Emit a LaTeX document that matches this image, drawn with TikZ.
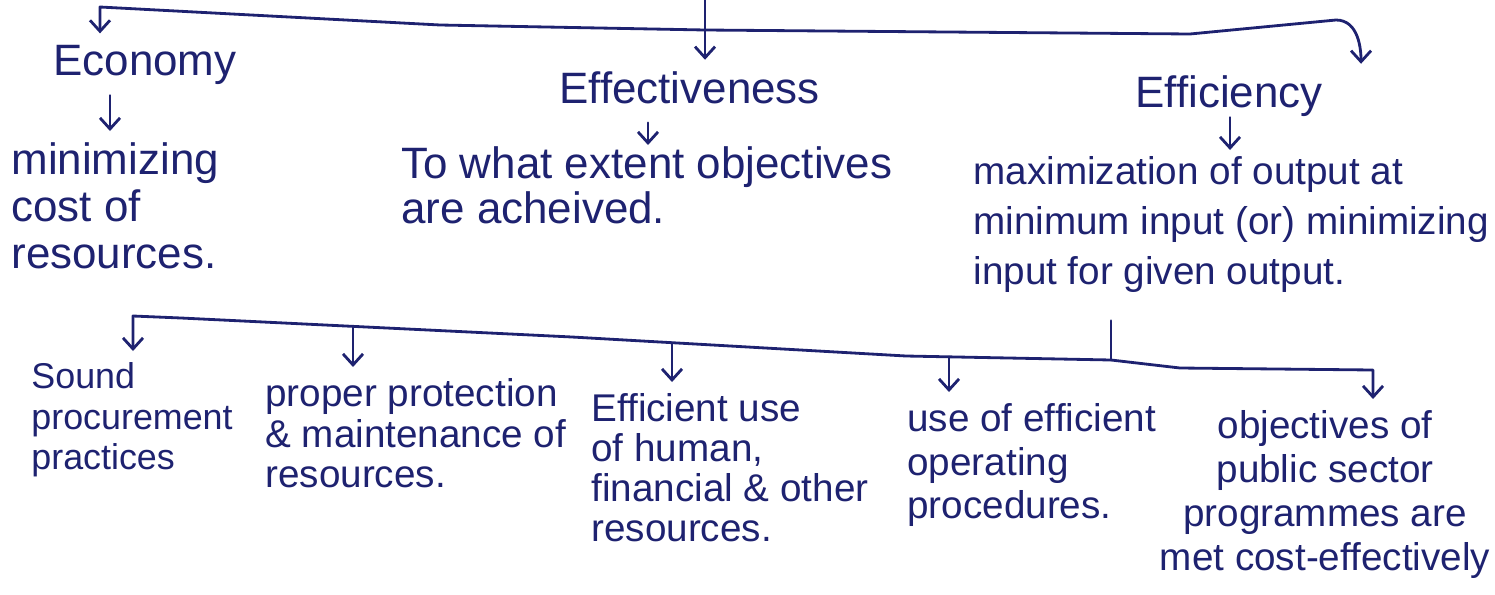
\documentclass[tikz,border=0pt]{standalone}
\usepackage{fontspec}
\setmainfont{Liberation Sans}
\usetikzlibrary{arrows.meta}
\definecolor{ink}{RGB}{30,34,112}

\begin{document}
\begin{tikzpicture}[
    x=0.1mm, y=-0.1mm, color=ink, line width=0.8pt, line cap=round, line join=round,
    head/.style={anchor=base west, inner sep=0pt, font=\fontsize{12.5}{14}\selectfont},
    note/.style={align=left, anchor=north west, inner sep=0pt, font=\fontsize{12.5}{13.4}\selectfont},
    leaf/.style={note, font=\fontsize{11}{11.6}\selectfont},
    arr/.style={-{Straight Barb[length=1.1mm,width=2mm]}, shorten <=1mm, shorten >=1mm},
    bus/.style={arr, {Straight Barb[length=1.1mm,width=2mm]}-{Straight Barb[length=1.1mm,width=2mm]}}
]
\useasboundingbox (0,0) rectangle (1495,594);

\node[head] (ecoh) at (52,75) {Economy};
\node[head] (effh) at (558,103) {Effectiveness};
\node[head] (effih) at (1134,107) {Efficiency};
\node[note] (ecot) at (10,141) {minimizing\\cost of\\resources.};
\node[note, font=\fontsize{12.5}{13}\selectfont] (efft) at (400,145) {To what extent objectives\\are acheived.};
\node[note, font=\fontsize{11}{14.2}\selectfont] (effit) at (972,155) {maximization of output at\\minimum input (or) minimizing\\input for given output.};

\node[leaf, font=\fontsize{10.2}{11.6}\selectfont] (sound) at (30,361) {Sound\\procurement\\practices};
\node[leaf] (protect) at (264,377) {proper protection\\\& maintenance of\\resources.};
\node[leaf, font=\fontsize{11}{11.4}\selectfont] (usehum) at (590,392) {Efficient use\\of human,\\financial \& other\\resources.};
\node[leaf, font=\fontsize{11}{12.4}\selectfont] (oper) at (906,402) {use of efficient\\operating\\procedures.};
\node[leaf, align=center, anchor=north, font=\fontsize{11}{12.5}\selectfont] (obj) at (1325,409) {objectives of\\public sector\\programmes are\\met cost-effectively};

\coordinate (top) at (705,0);
\coordinate (t1) at (100,7);
\coordinate (t2) at (440,25);
\coordinate (t3) at (705,30);
\coordinate (t4) at (1190,34);
\coordinate (t5) at (1336,20);
\draw[bus] (t1 |- ecoh.north) -- (t1) -- (t2) -- (t3) -- (t4) -- (t5) to[out=0,in=90] ([xshift=3.7mm]effih.north east);
\draw[arr, shorten <=0pt] (top) -- (top |- effh.north);

\coordinate (e1) at ([xshift=5.8mm]ecoh.south west);
\coordinate (e2) at ([xshift=9mm]effh.south west);
\coordinate (e3) at ([xshift=9.6mm]effih.south west);
\draw[arr] (e1) -- (e1 |- ecot.north);
\draw[arr, shorten <=1.8mm, shorten >=0pt] (e2) -- (e2 |- efft.north);
\draw[arr, shorten <=0pt, shorten >=0.5mm] (e3) -- (e3 |- effit.north);

\coordinate (b1) at (133,316);
\coordinate (b2) at (181,318);
\coordinate (b3) at (572,337);
\coordinate (b4) at (906,356);
\coordinate (b5) at (1111,360);
\coordinate (b6) at (1180,368);
\coordinate (b7) at (1373,370);
\draw[shorten <=2.7mm] (effit.south -| b5) -- (b5);
\draw[bus] (b1 |- sound.north) -- (b1) -- (b2) -- (b3) -- (b4) -- (b5) -- (b6) -- (b7) -- (b7 |- obj.north);

\coordinate (d1) at (353,327);
\coordinate (d2) at (672,343);
\coordinate (d3) at (949,357);
\draw[arr, shorten <=0pt] (d1) -- (d1 |- protect.north);
\draw[arr, shorten <=0pt] (d2) -- (d2 |- usehum.north);
\draw[arr, shorten <=0pt] (d3) -- (d3 |- oper.north);
\end{tikzpicture}
\end{document}
